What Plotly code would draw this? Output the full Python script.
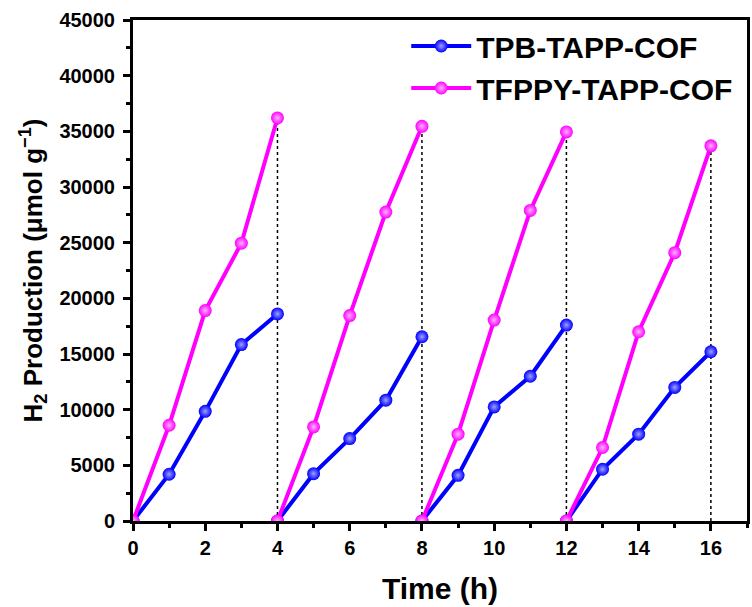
import plotly.graph_objects as go

# Hours within one cycle and number of recycling runs
cycle_hours = [0, 1, 2, 3, 4]
cycle_length = 4

# H2 evolution (μmol g^-1) per cycle
tpb_cycles = [
    [0, 4200, 9850, 15850, 18600],
    [0, 4250, 7400, 10850, 16550],
    [0, 4100, 10250, 13000, 17600],
    [0, 4650, 7800, 12000, 15200],
]
tfppy_cycles = [
    [0, 8600, 18900, 24950, 36200],
    [0, 8450, 18450, 27750, 35450],
    [0, 7800, 18050, 27900, 34950],
    [0, 6600, 17000, 24100, 33700],
]

x_ticks = list(range(0, 17, 2))
y_ticks = list(range(0, 45001, 5000))

FONT = "Arial, Liberation Sans, sans-serif"


def stitch(cycles):
    xs, ys = [], []
    for i, vals in enumerate(cycles):
        if i:
            xs.append(None)
            ys.append(None)
        xs += [h + i * cycle_length for h in cycle_hours]
        ys += vals
    return xs, ys


# dotted separators at the end of each cycle, up to the TFPPY value
sep_x, sep_y = [], []
for i, vals in enumerate(tfppy_cycles):
    end = cycle_hours[-1] + i * cycle_length
    sep_x += [end, end, None]
    sep_y += [0, vals[-1], None]

fig = go.Figure()
fig.add_trace(go.Scatter(
    x=sep_x, y=sep_y, mode="lines", showlegend=False, hoverinfo="skip",
    line=dict(color="black", width=1.5, dash="dot"),
))

for name, cycles, col, hi in [
    ("TPB-TAPP-COF", tpb_cycles, "#0000ff", "#a0a0ff"),
    ("TFPPY-TAPP-COF", tfppy_cycles, "#ff00ff", "#ffb0ff"),
]:
    xs, ys = stitch(cycles)
    fig.add_trace(go.Scatter(
        x=xs, y=ys, name=name, mode="lines+markers",
        line=dict(color=col, width=4),
        marker=dict(size=13, color=col, line=dict(width=0),
                    gradient=dict(type="radial", color=hi)),
    ))

axis_common = dict(
    showline=True, linewidth=3, linecolor="black", mirror=True,
    ticks="outside", tickwidth=3, ticklen=7, tickcolor="black",
    showgrid=False, zeroline=False, tickformat="d",
    tickfont=dict(family=FONT, size=20, color="black", weight="bold"),
)

fig.update_xaxes(
    **axis_common, range=[0, 17], tickvals=x_ticks,
    minor=dict(ticks="outside", dtick=1, tick0=0, ticklen=4, tickwidth=3, tickcolor="black"),
    title=dict(text="Time (h)", font=dict(family=FONT, size=30, color="black", weight="bold"), standoff=20),
)
fig.update_yaxes(
    **axis_common, range=[0, 45000], tickvals=y_ticks, ticklabelstandoff=4,
    minor=dict(ticks="outside", dtick=2500, tick0=0, ticklen=4, tickwidth=3, tickcolor="black"),
    title=dict(text="H<sub>2</sub> Production (μmol g<sup>−1</sup>)",
               font=dict(family=FONT, size=26, color="black", weight="bold"), standoff=10),
)

fig.update_layout(
    width=752, height=607,
    margin=dict(l=133, r=2, t=20, b=86),
    plot_bgcolor="white", paper_bgcolor="white",
    legend=dict(
        x=0.445, y=1.0, xanchor="left", yanchor="top",
        bgcolor="rgba(0,0,0,0)", itemwidth=60,
        font=dict(family=FONT, size=30, color="black", weight="bold"),
    ),
)

fig.write_html("out.html")
